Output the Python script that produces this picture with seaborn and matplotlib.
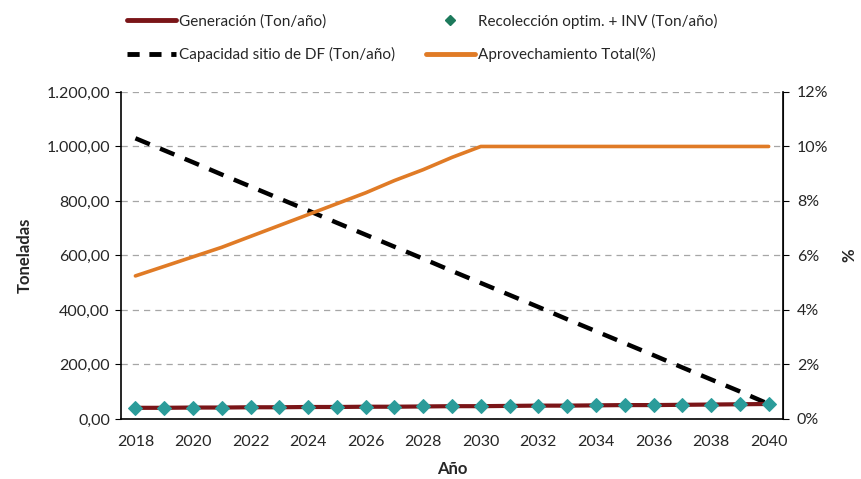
import pandas as pd
import numpy as np
import seaborn as sns
import matplotlib
matplotlib.use("Agg")
import matplotlib.pyplot as plt
from matplotlib.ticker import FuncFormatter, MultipleLocator
from matplotlib.lines import Line2D

# ------ Data ------
years = list(range(2018, 2041))
generacion = [41, 41, 42, 42, 43, 43, 44, 44, 45, 45, 46, 47, 47, 48, 49, 49, 50, 51, 51, 52, 53, 54, 55]
recoleccion = [41, 41, 42, 42, 43, 43, 44, 44, 45, 45, 46, 47, 47, 48, 49, 49, 50, 51, 51, 52, 53, 54, 55]
capacidad = [1030, 986, 942, 897, 853, 809, 765, 720, 676, 632, 588, 543, 499,
             455, 411, 366, 322, 278, 234, 189, 145, 101, 55]
aprovechamiento = [5.25, 5.6, 5.95, 6.3, 6.7, 7.1, 7.5, 7.9, 8.3, 8.75, 9.15, 9.6, 10.0,
                   10.0, 10.0, 10.0, 10.0, 10.0, 10.0, 10.0, 10.0, 10.0, 10.0]

df = pd.DataFrame({"year": years, "gen": generacion, "rec": recoleccion,
                   "cap": capacidad, "apr": aprovechamiento})

sns.set_style("white")
plt.rcParams["font.family"] = ["Lato", "DejaVu Sans"]

RED = "#7a1518"
TEAL = "#2b9c9a"
ORANGE = "#e07b26"

fig = plt.figure(figsize=(8.62, 4.79), dpi=100)
ax = fig.add_axes([0.1404, 0.1253, 0.7680, 0.6827])
ax2 = ax.twinx()

sns.lineplot(data=df, x="year", y="cap", ax=ax, color="black", lw=3.2, zorder=3)
ax.lines[-1].set_dashes([3.5, 2.5])
sns.lineplot(data=df, x="year", y="gen", ax=ax, color=RED, lw=3.0, zorder=4)
sns.lineplot(data=df, x="year", y="rec", ax=ax, color=TEAL, lw=0, marker="D",
             markersize=7.5, markeredgecolor=TEAL, zorder=5)
sns.lineplot(data=df, x="year", y="apr", ax=ax2, color=ORANGE, lw=2.6, zorder=3)

ax.set_xlim(2017.5, 2040.5)
ax.set_ylim(0, 1200)
ax2.set_ylim(0, 12)
ax.set_xticks(range(2018, 2041, 2))
ax.yaxis.set_major_locator(MultipleLocator(200))
ax2.yaxis.set_major_locator(MultipleLocator(2))

def fmt_es(v, pos):
    s = f"{v:,.2f}"
    return s.replace(",", "X").replace(".", ",").replace("X", ".")

ax.yaxis.set_major_formatter(FuncFormatter(fmt_es))
ax2.yaxis.set_major_formatter(FuncFormatter(lambda v, p: f"{int(round(v))}%"))

ax.grid(axis="y", color="#a6a6a6", ls=(0, (5, 4)), lw=0.9)
ax.set_axisbelow(True)

for a in (ax, ax2):
    a.spines["top"].set_visible(False)
for s in ("left", "bottom"):
    ax.spines[s].set_color("black")
    ax.spines[s].set_linewidth(1.2)
ax2.spines["right"].set_color("black")
ax2.spines["right"].set_linewidth(1.2)
ax2.spines["left"].set_visible(False)
ax2.spines["bottom"].set_visible(False)

ax.tick_params(axis="y", labelsize=11.5, left=True, length=4, color="black", pad=4)
ax.tick_params(axis="x", labelsize=11.5, bottom=False, pad=8)
ax2.tick_params(axis="y", labelsize=11.5, right=True, length=4, color="black", pad=6)

ax.set_xlabel("Año", fontsize=12, fontweight="bold", labelpad=9)
ax.set_ylabel("Toneladas", fontsize=12, fontweight="bold", labelpad=10)
ax2.set_ylabel("%", fontsize=12, fontweight="bold", labelpad=9)

handles = [
    Line2D([], [], color=RED, lw=3.5),
    Line2D([], [], color="black", lw=3.5, dashes=[2.5, 2]),
    Line2D([], [], color=TEAL, lw=0, marker="D", markersize=5, markerfacecolor="#1d7a5c", markeredgecolor="#1d7a5c"),
    Line2D([], [], color=ORANGE, lw=3.5),
]
labels = ["Generación (Ton/año)", "Capacidad sitio de DF (Ton/año)",
          "Recolección optim. + INV (Ton/año)", "Aprovechamiento Total(%)"]
fig.legend(handles, labels, ncol=2, loc="upper center", bbox_to_anchor=(0.49, 1.0),
           frameon=False, fontsize=11, handlelength=3.2, handletextpad=0.2,
           columnspacing=2.0, labelspacing=1.2)

fig.savefig("out.png", dpi=100)
